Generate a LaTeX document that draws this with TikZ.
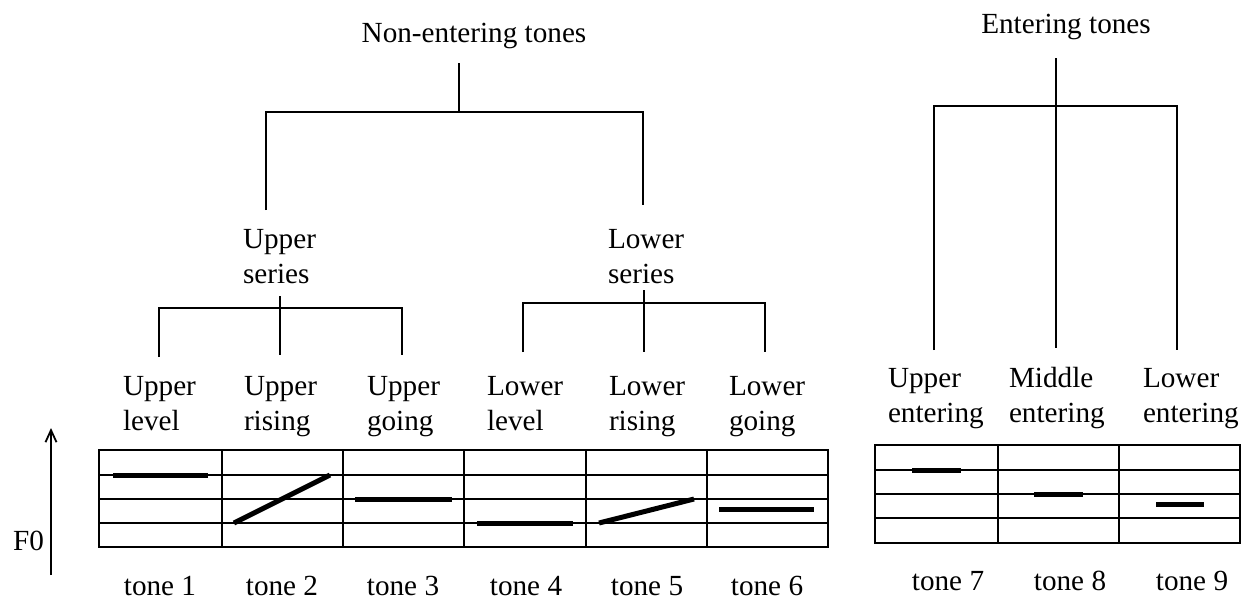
\documentclass[tikz,border=0pt]{standalone}
\usepackage{fontspec}
\setmainfont{Liberation Serif}
\usetikzlibrary{arrows.meta}
\begin{document}
\begin{tikzpicture}[x=0.5pt,y=-0.5pt,
  lbl/.style={inner sep=0pt, outer sep=0pt, font=\fontsize{14.6}{17.5}\selectfont},
  twoline/.style={lbl, align=left, anchor=base west},
  branch/.style={line width=1pt},
  gridline/.style={line width=1pt},
  bar/.style={line width=2.5pt},
]
\useasboundingbox (0,0) rectangle (1242,602);

% ---- Non-entering tones tree ----
\node[lbl, anchor=base] (ne) at (474,42) {Non-entering tones};
\coordinate (ne-s) at (459,63);
\coordinate (ne-j) at (459,112);
\coordinate (ne-l) at (266,112);
\coordinate (ne-r) at (643,112);
\coordinate (us-top) at (266,210);
\coordinate (ls-top) at (643,205);
\draw[branch] (ne-s) -- (ne-j);
\draw[branch] (us-top) -- (ne-l) -- (ne-r) -- (ls-top);

% two-line labels: the anchor sits on the baseline of the second line
\node[twoline] (us) at (243,283) {Upper\\series};
\node[twoline] (ls) at (608,283) {Lower\\series};

% upper series bracket
\coordinate (us-s) at (280,296);
\coordinate (us-m) at (280,355);
\coordinate (us-a) at (159,357);
\coordinate (us-al) at (159,308);
\coordinate (us-ar) at (402,308);
\coordinate (us-b) at (402,355);
\draw[branch] (us-s) -- (us-m);
\draw[branch] (us-a) -- (us-al) -- (us-ar) -- (us-b);

% lower series bracket
\coordinate (ls-s) at (644,290);
\coordinate (ls-m) at (644,352);
\coordinate (ls-a) at (523,352);
\coordinate (ls-al) at (523,303);
\coordinate (ls-ar) at (765,303);
\coordinate (ls-b) at (765,352);
\draw[branch] (ls-s) -- (ls-m);
\draw[branch] (ls-a) -- (ls-al) -- (ls-ar) -- (ls-b);

% ---- Entering tones tree ----
\node[lbl, anchor=base] (en) at (1066,33) {Entering tones};
\coordinate (en-s) at (1056,58);
\coordinate (en-m) at (1056,348);
\coordinate (en-a) at (934,350);
\coordinate (en-al) at (934,106);
\coordinate (en-ar) at (1177,106);
\coordinate (en-b) at (1177,350);
\draw[branch] (en-s) -- (en-m);
\draw[branch] (en-a) -- (en-al) -- (en-ar) -- (en-b);

% ---- tone category labels ----
\node[twoline] (c1) at (123,430) {Upper\\level};
\node[twoline] (c2) at (244,430) {Upper\\rising};
\node[twoline] (c3) at (367,430) {Upper\\going};
\node[twoline] (c4) at (487,430) {Lower\\level};
\node[twoline] (c5) at (609,430) {Lower\\rising};
\node[twoline] (c6) at (729,430) {Lower\\going};
\node[twoline] (c7) at (888,422) {Upper\\entering};
\node[twoline] (c8) at (1009,422) {Middle\\entering};
\node[twoline] (c9) at (1143,422) {Lower\\entering};

% ---- pitch grids ----
\draw[gridline] (99,450) rectangle (828,547);
\foreach \y in {475,499,523} \draw[gridline] (99,\y) -- (828,\y);
\foreach \x in {222,343,464,586,707} \draw[gridline] (\x,450) -- (\x,547);

\draw[gridline] (875,445) rectangle (1240,543);
\foreach \y in {470,494,518} \draw[gridline] (875,\y) -- (1240,\y);
\foreach \x in {998,1119} \draw[gridline] (\x,445) -- (\x,543);

% ---- pitch contours ----
\draw[bar] (113,475) -- (208,475);
\draw[bar] (234,523) -- (330,475);
\draw[bar] (355,499) -- (452,499);
\draw[bar] (477,523) -- (573,523);
\draw[bar] (599,523) -- (694,499);
\draw[bar] (719,509) -- (814,509);
\draw[bar] (912,470) -- (961,470);
\draw[bar] (1034,494) -- (1083,494);
\draw[bar] (1156,504) -- (1204,504);

% ---- tone numbers ----
\node[lbl, anchor=base] (t1) at (160,595) {tone 1};
\node[lbl, anchor=base] (t2) at (282,595) {tone 2};
\node[lbl, anchor=base] (t3) at (403,595) {tone 3};
\node[lbl, anchor=base] (t4) at (526,595) {tone 4};
\node[lbl, anchor=base] (t5) at (647,595) {tone 5};
\node[lbl, anchor=base] (t6) at (767,595) {tone 6};
\node[lbl, anchor=base] (t7) at (948,590) {tone 7};
\node[lbl, anchor=base] (t8) at (1070,590) {tone 8};
\node[lbl, anchor=base] (t9) at (1192,590) {tone 9};

% ---- F0 axis ----
\node[lbl, anchor=base east] (f0) at (44,550) {F0};
\coordinate (f0-lo) at (51,575);
\coordinate (f0-hi) at (51,428);
\draw[line width=0.9pt, -{Straight Barb[length=6pt,width=5.5pt]}] (f0-lo) -- (f0-hi);
\end{tikzpicture}
\end{document}
